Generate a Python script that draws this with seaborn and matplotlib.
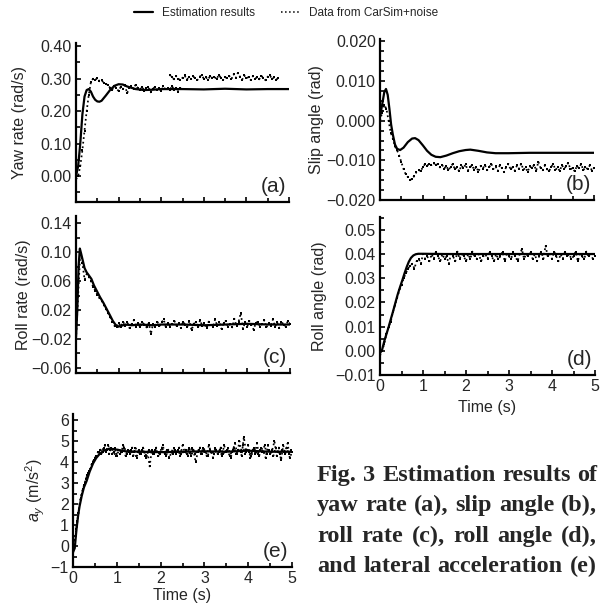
import numpy as np
import pandas as pd
import matplotlib
matplotlib.use("Agg")
import matplotlib.pyplot as plt
import seaborn as sns
from matplotlib.lines import Line2D
from matplotlib.ticker import MultipleLocator, FixedLocator

# ---------------- data ----------------
# (a) yaw rate
yaw_est_t = [0.0, 0.05, 0.1, 0.15, 0.2, 0.25, 0.3, 0.35, 0.4, 0.45, 0.5, 0.55, 0.6, 0.7, 0.8, 0.9,
             1.0, 1.1, 1.2, 1.4, 1.6, 1.8, 2.0, 2.5, 3.0, 3.5, 4.0, 4.5, 5.0]
yaw_est = [0.0, 0.03, 0.10, 0.19, 0.245, 0.265, 0.268, 0.26, 0.245, 0.235, 0.23, 0.229, 0.232, 0.248,
           0.265, 0.278, 0.283, 0.282, 0.276, 0.268, 0.265, 0.266, 0.268, 0.268, 0.267, 0.269, 0.267,
           0.268, 0.268]
yaw_data1 = [-0.01, 0.0, 0.03, 0.08, 0.14, 0.20, 0.25, 0.29, 0.300, 0.296, 0.302, 0.292, 0.295, 0.288,
             0.284, 0.280, 0.272, 0.266, 0.278, 0.270, 0.262, 0.275, 0.268, 0.280, 0.255, 0.272, 0.276,
             0.269, 0.282, 0.271, 0.266, 0.275, 0.263, 0.270, 0.273, 0.258, 0.268, 0.274, 0.265, 0.270,
             0.262, 0.276, 0.267, 0.271, 0.264, 0.278, 0.266, 0.272, 0.260, 0.270, 0.268]
yaw_data2 = [0.312, 0.305, 0.298, 0.308, 0.300, 0.295, 0.303, 0.310, 0.297, 0.304, 0.299, 0.307, 0.301,
             0.296, 0.306, 0.311, 0.300, 0.304, 0.297, 0.309, 0.302, 0.306, 0.298, 0.312, 0.303, 0.296,
             0.305, 0.301, 0.308, 0.299, 0.314, 0.302, 0.318, 0.306, 0.297, 0.310, 0.301, 0.305, 0.296,
             0.308, 0.300, 0.304, 0.298, 0.309, 0.302, 0.295, 0.306, 0.311, 0.299, 0.304, 0.297, 0.302]

# (b) slip angle
slip_est_t = [0.0, 0.05, 0.1, 0.14, 0.18, 0.22, 0.26, 0.3, 0.35, 0.4, 0.47, 0.55, 0.65, 0.75, 0.82, 0.9,
              1.0, 1.1, 1.2, 1.3, 1.41, 1.55, 1.7, 1.85, 2.0, 2.11, 2.3, 2.5, 2.7, 3.0, 3.5, 4.0, 4.5, 5.0]
slip_est = [0.001, 0.004, 0.0072, 0.008, 0.0065, 0.003, -0.001, -0.0035, -0.006, -0.0071, -0.0074,
            -0.0068, -0.0054, -0.0045, -0.0044, -0.0049, -0.0062, -0.0076, -0.0086, -0.0091, -0.0092,
            -0.0088, -0.0082, -0.0077, -0.0074, -0.0073, -0.0076, -0.008, -0.0082, -0.0082, -0.0081,
            -0.0081, -0.0081, -0.0081]
slip_data = [0.0, 0.002, 0.004, 0.003, 0.0, -0.003, -0.0045, -0.0065, -0.0075, -0.0088, -0.0105, -0.0122,
             -0.0135, -0.0142, -0.0150, -0.0146, -0.0140, -0.0130, -0.0124, -0.0128, -0.0117, -0.0110,
             -0.0114, -0.0108, -0.0112, -0.0106, -0.0113, -0.0109, -0.0118, -0.0111, -0.0121, -0.0114,
             -0.0125, -0.0116, -0.0109, -0.0123, -0.0117, -0.0128, -0.0113, -0.0120, -0.0110, -0.0126,
             -0.0118, -0.0112, -0.0124, -0.0116, -0.0129, -0.0114, -0.0121, -0.0111, -0.0125, -0.0118,
             -0.0108, -0.0122, -0.0115, -0.0127, -0.0112, -0.0120, -0.0130, -0.0116, -0.0109, -0.0123,
             -0.0117, -0.0126, -0.0113, -0.0121, -0.0108, -0.0124, -0.0118, -0.0129, -0.0115, -0.0120,
             -0.0111, -0.0126, -0.0103, -0.0119, -0.0125, -0.0113, -0.0122, -0.0128, -0.0116, -0.0110,
             -0.0124, -0.0118, -0.0127, -0.0112, -0.0121, -0.0115, -0.0106, -0.0123, -0.0119, -0.0128,
             -0.0114, -0.0120, -0.0109, -0.0125, -0.0117, -0.0122, -0.0113, -0.0126, -0.0119]

# (c) roll rate
rr_est_t = [0.0, 0.03, 0.06, 0.09, 0.12, 0.16, 0.2, 0.25, 0.3, 0.36, 0.42, 0.49, 0.56, 0.64, 0.72, 0.8,
            0.86, 0.92, 0.98, 1.05, 1.15, 1.3, 1.5, 1.8, 2.0, 2.5, 3.0, 3.5, 4.0, 4.5, 5.0]
rr_est = [-0.018, 0.02, 0.08, 0.105, 0.098, 0.088, 0.078, 0.072, 0.068, 0.063, 0.054, 0.046, 0.038, 0.030,
          0.021, 0.012, 0.005, 0.0, -0.003, -0.002, 0.0, -0.001, 0.0, -0.001, 0.0, 0.0, -0.001, 0.0,
          0.001, 0.0, 0.0]
rr_data = [-0.020, 0.040, 0.100, 0.085, 0.062, 0.070, 0.066, 0.060, 0.052, 0.047, 0.041, 0.036, 0.033,
           0.027, 0.022, 0.016, 0.010, 0.004, -0.002, -0.004, 0.002, -0.003, 0.004, -0.002, 0.003, -0.005,
           0.001, 0.006, -0.003, 0.002, -0.004, 0.003, 0.000, -0.004, 0.002, -0.013, 0.001, -0.003, 0.004,
           -0.002, 0.003, 0.007, -0.004, 0.002, -0.003, 0.001, 0.005, -0.002, 0.002, -0.005, 0.004, 0.000,
           -0.003, 0.005, -0.008, 0.001, 0.003, -0.004, 0.006, -0.002, 0.002, -0.005, 0.004, 0.000, -0.003,
           0.007, -0.002, 0.003, -0.006, 0.002, 0.005, -0.003, 0.001, -0.004, 0.008, -0.002, 0.004, 0.016,
           -0.006, 0.003, -0.003, 0.005, 0.000, -0.007, 0.002, 0.004, -0.003, 0.001, 0.006, -0.004, 0.002,
           -0.002, 0.007, -0.003, 0.003, -0.005, 0.004, 0.000, -0.003, 0.005, 0.001]

# (d) roll angle
ra_est_t = [0.0, 0.05, 0.1, 0.155, 0.2, 0.25, 0.31, 0.36, 0.41, 0.465, 0.52, 0.57, 0.62, 0.67, 0.72,
            0.775, 0.83, 0.89, 1.0, 1.5, 2.0, 3.0, 4.0, 5.0]
ra_est = [-0.001, 0.0005, 0.004, 0.0072, 0.0098, 0.013, 0.0167, 0.02, 0.0232, 0.0263, 0.0292, 0.032,
          0.0346, 0.0368, 0.0384, 0.0394, 0.0399, 0.0401, 0.0401, 0.04, 0.04, 0.04, 0.04, 0.04]
ra_data = [-0.002, 0.000, 0.003, 0.007, 0.010, 0.012, 0.016, 0.019, 0.022, 0.025, 0.027, 0.030, 0.032,
           0.034, 0.035, 0.036, 0.034, 0.037, 0.038, 0.036, 0.040, 0.038, 0.039, 0.037, 0.040, 0.038,
           0.041, 0.039, 0.037, 0.040, 0.038, 0.039, 0.036, 0.040, 0.039, 0.037, 0.041, 0.038, 0.040,
           0.039, 0.037, 0.040, 0.038, 0.041, 0.039, 0.038, 0.040, 0.037, 0.039, 0.040, 0.038, 0.041,
           0.039, 0.037, 0.040, 0.038, 0.039, 0.041, 0.037, 0.040, 0.039, 0.038, 0.041, 0.039, 0.037,
           0.040, 0.042, 0.038, 0.040, 0.039, 0.041, 0.038, 0.040, 0.037, 0.039, 0.041, 0.038, 0.0435,
           0.039, 0.040, 0.038, 0.041, 0.039, 0.037, 0.040, 0.038, 0.041, 0.039, 0.040, 0.038, 0.039,
           0.041, 0.037, 0.040, 0.039, 0.038, 0.041, 0.039, 0.040, 0.038, 0.039]

# (e) lateral acceleration
ay_est_t = [0.0, 0.04, 0.08, 0.12, 0.15, 0.2, 0.25, 0.31, 0.38, 0.46, 0.53, 0.61, 0.7, 0.84, 1.0, 1.2,
            1.5, 2.0, 2.5, 3.0, 3.5, 4.0, 4.5, 5.0]
ay_est = [-0.3, -0.1, 0.8, 1.5, 1.9, 2.4, 2.8, 3.1, 3.55, 3.95, 4.2, 4.4, 4.55, 4.65, 4.6, 4.52, 4.5,
          4.48, 4.5, 4.52, 4.5, 4.55, 4.5, 4.5]
ay_data = [-0.2, 0.3, 1.2, 2.0, 2.5, 2.9, 3.2, 3.5, 3.7, 4.0, 4.2, 4.3, 4.5, 4.4, 4.7, 4.5, 4.8, 4.6, 4.4,
           4.7, 4.3, 4.6, 4.5, 4.8, 4.3, 4.6, 4.4, 4.7, 4.5, 4.2, 4.6, 4.4, 4.7, 4.3, 4.5, 3.8, 4.6, 4.4,
           4.7, 4.3, 4.5, 4.8, 4.4, 4.6, 4.2, 4.5, 4.7, 4.4, 4.6, 4.3, 4.8, 4.5, 4.4, 4.7, 4.3, 4.6, 4.0,
           4.5, 4.7, 4.4, 4.6, 4.3, 4.8, 4.5, 4.2, 4.7, 4.4, 4.6, 4.3, 4.8, 4.5, 4.7, 4.2, 4.6, 4.9, 4.4,
           5.0, 4.3, 5.2, 4.5, 4.8, 4.2, 4.6, 4.4, 4.9, 4.3, 4.7, 4.5, 4.2, 4.8, 4.4, 4.6, 5.0, 4.3, 4.7,
           4.1, 4.8, 4.4, 4.9, 4.2, 4.5]
ay_data_mid = [0.0, 0.8, 1.6, 2.3, 2.7, 3.0, 3.4, 3.6, 3.9, 4.1, 4.3, 4.5, 4.6, 4.5, 4.8, 4.6, 4.4, 4.7,
               4.5, 4.3, 4.6, 4.4, 4.5, 4.7, 4.4, 4.5, 4.6, 4.3, 4.7, 4.5, 4.4, 4.6, 4.5, 4.2, 4.6, 4.5,
               4.4, 4.6, 4.5, 4.4, 4.7, 4.5, 4.3, 4.6, 4.5, 4.4, 4.6, 4.5, 4.7, 4.4, 4.5, 4.6, 4.3, 4.5,
               4.7, 4.4, 4.5, 4.6, 4.4, 4.7, 4.5, 4.3, 4.6, 4.5, 4.4, 4.6, 4.5, 4.7, 4.4, 4.5, 4.6, 4.3,
               4.5, 4.7, 4.4, 4.6, 4.5, 4.8, 4.4, 4.6, 4.5, 4.3, 4.7, 4.5, 4.4, 4.6, 4.5, 4.8, 4.4, 4.6,
               4.5, 4.3, 4.7, 4.5, 4.4, 4.6, 4.5, 4.7, 4.4, 4.6]

time_grid = np.round(np.arange(0, 101) * 0.05, 3)
time_mid = np.round(0.025 + np.arange(0, 100) * 0.05, 3)
yaw_t1 = time_grid[:51]
yaw_t2 = np.round(2.2 + np.arange(52) * 0.05, 2)

ylabels = ["Yaw rate (rad/s)", "Slip angle (rad)", "Roll rate (rad/s)", "Roll angle (rad)",
           r"$a_y$ (m/s$^2$)"]
letters = ["(a)", "(b)", "(c)", "(d)", "(e)"]
ytick_vals = [[0.0, 0.1, 0.2, 0.3, 0.4],
              [-0.02, -0.01, 0.0, 0.01, 0.02],
              [-0.06, -0.02, 0.02, 0.06, 0.10, 0.14],
              [-0.01, 0.0, 0.01, 0.02, 0.03, 0.04, 0.05],
              [-1, 0, 1, 2, 3, 4, 5, 6]]
ytick_labels = [["0.00", "0.10", "0.20", "0.30", "0.40"],
                ["\u22120.020", "\u22120.010", "0.000", "0.010", "0.020"],
                ["\u22120.06", "\u22120.02", "0.02", "0.06", "0.10", "0.14"],
                ["\u22120.01", "0.00", "0.01", "0.02", "0.03", "0.04", "0.05"],
                ["\u22121", "0", "1", "2", "3", "4", "5", "6"]]
xtick_vals = [0, 1, 2, 3, 4, 5]
xtick_labels = ["0", "1", "2", "3", "4", "5"]
legend_labels = ["Estimation results", "Data from CarSim+noise"]
caption_lines = ["Fig. 3  Estimation results of",
                 "yaw rate (a), slip angle (b),",
                 "roll rate (c), roll angle (d),",
                 "and lateral acceleration (e)"]

# ---------------- style ----------------
sns.set_style("ticks")
plt.rcParams["font.family"] = ["Liberation Sans", "DejaVu Sans"]
plt.rcParams["mathtext.fontset"] = "custom"
plt.rcParams["mathtext.rm"] = "Liberation Sans"
plt.rcParams["mathtext.it"] = "Liberation Sans:italic"
plt.rcParams["axes.linewidth"] = 1.5

W, H = 601, 607
fig = plt.figure(figsize=(W / 100, H / 100), dpi=100)


def box(l, r, t, b):
    return [l / W, 1 - b / H, (r - l) / W, (b - t) / H]


rects = [box(76, 289, 43, 202), box(380, 594, 39, 200), box(76, 290, 216, 373),
         box(380, 595, 217, 375), box(73, 292, 414, 567)]
ylims = [(-0.08, 0.41), (-0.02, 0.0206), (-0.067, 0.15), (-0.01, 0.0553), (-1, 6.3)]
yminor = [0.05, 0.0025, 0.02, 0.005, 0.5]
label_x = [-0.23, -0.26, -0.21, -0.245, -0.12]
show_x = [False, False, False, True, True]

est = [(yaw_est_t, yaw_est), (slip_est_t, slip_est), (rr_est_t, rr_est), (ra_est_t, ra_est),
       (ay_est_t, ay_est)]
dat = [[(yaw_t1, yaw_data1), (yaw_t2, yaw_data2)], [(time_grid, slip_data)], [(time_grid, rr_data)],
       [(time_grid, ra_data)], [(time_grid, ay_data), (time_mid, ay_data_mid)]]

for i in range(5):
    ax = fig.add_axes(rects[i])
    for (tt, vv) in dat[i]:
        df = pd.DataFrame({"t": tt, "v": vv})
        sns.lineplot(data=df, x="t", y="v", ax=ax, color="black", linestyle=":", linewidth=1.25,
                     estimator=None, sort=False)
        sns.scatterplot(data=df, x="t", y="v", ax=ax, color="black", s=4.5, marker="s", linewidth=0)
    dfe = pd.DataFrame({"t": est[i][0], "v": est[i][1]})
    sns.lineplot(data=dfe, x="t", y="v", ax=ax, color="black", linewidth=1.6, estimator=None)
    ax.set_xlim(0, 5)
    ax.set_ylim(*ylims[i])
    ax.yaxis.set_major_locator(FixedLocator(ytick_vals[i]))
    ax.set_yticklabels(ytick_labels[i])
    ax.yaxis.set_minor_locator(MultipleLocator(yminor[i]))
    ax.xaxis.set_major_locator(FixedLocator(xtick_vals))
    ax.xaxis.set_minor_locator(MultipleLocator(0.5))
    if show_x[i]:
        ax.set_xticklabels(xtick_labels)
        ax.set_xlabel("Time (s)", fontsize=11.5, labelpad=4 if i == 3 else 1)
    else:
        ax.set_xticklabels([])
        ax.set_xlabel("")
    ax.set_ylabel(ylabels[i], fontsize=11.5)
    ax.yaxis.set_label_coords(label_x[i], 0.5)
    ax.tick_params(which="both", direction="in", width=1.2, labelsize=11.5, pad=3, color="black")
    ax.tick_params(which="major", length=3.5)
    ax.tick_params(which="minor", length=3)
    for s in ["top", "right"]:
        ax.spines[s].set_visible(False)
    for s in ["left", "bottom"]:
        ax.spines[s].set_color("black")
        ax.spines[s].set_linewidth(1.6)
    ax.text(0.985, 0.04, letters[i], transform=ax.transAxes, ha="right", va="bottom", fontsize=15)

handles = [Line2D([], [], color="black", linewidth=1.6),
           Line2D([], [], color="black", linewidth=1.1, linestyle=":")]
fig.legend(handles, legend_labels, loc="center", bbox_to_anchor=(286 / W, 1 - 13 / H), ncol=2,
           frameon=False, fontsize=8.5, handlelength=1.6, columnspacing=2.2, handletextpad=0.8)

# justified caption
fig.canvas.draw()
renderer = fig.canvas.get_renderer()
x0, x1 = 317, 597
baselines = [481, 511, 542, 572]
for line, yb in zip(caption_lines, baselines):
    words = line.split()
    texts = []
    widths = []
    for w in words:
        t = fig.text(0, 1 - yb / H, w, fontsize=17.5, fontweight="bold",
                     family=["Liberation Serif", "DejaVu Serif"], va="baseline", ha="left")
        texts.append(t)
        widths.append(t.get_window_extent(renderer).width)
    gap = (x1 - x0 - sum(widths)) / (len(words) - 1)
    xp = x0
    for t, wd in zip(texts, widths):
        t.set_x(xp / W)
        xp += wd + gap

fig.savefig("out.png", dpi=100)
